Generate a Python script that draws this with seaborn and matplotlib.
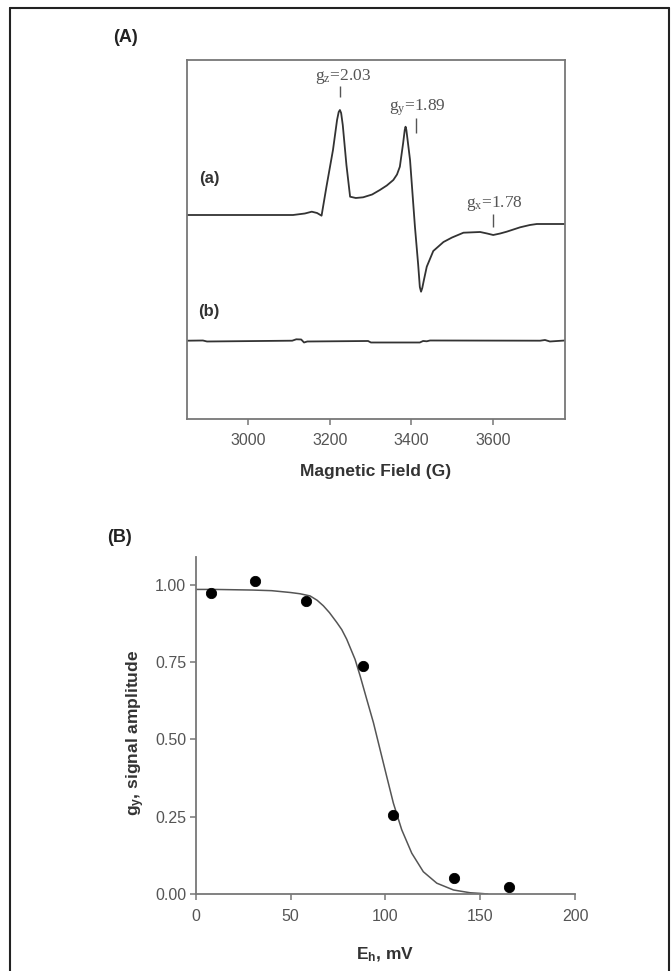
import matplotlib
matplotlib.use('Agg')
import matplotlib.pyplot as plt
import seaborn as sns

# Panel A: EPR spectra, (a) reduced sample, (b) control
field_a = [2850, 3110, 3139, 3156, 3169, 3180, 3192, 3208, 3218, 3222, 3225, 3228, 3232, 3241,
           3250, 3264, 3282, 3304, 3323, 3340, 3356, 3365, 3372, 3380, 3384, 3386, 3388, 3391,
           3397, 3409, 3417, 3421, 3424, 3427, 3431, 3438, 3454, 3479, 3500, 3528, 3569, 3586,
           3601, 3618, 3634, 3667, 3691, 3708, 3777]
signal_a = [0, 0, 1.5, 3.3, 2, -0.7, 28.3, 65, 95, 103, 105, 102, 90, 50,
            18.3, 17, 17.7, 20.5, 25, 29.5, 35, 40.5, 48.3, 71.7, 85, 88.3, 85, 75,
            55, -11.7, -50, -72, -76.7, -73, -65, -51.7, -36, -27, -22.5, -17.7, -17, -18.5,
            -20, -18.5, -16.7, -12.3, -10, -9, -9]
field_b = [2850, 2889, 2899, 3108, 3118, 3130, 3137, 3145, 3294, 3301, 3421, 3429,
           3438, 3446, 3716, 3728, 3740, 3777]
signal_b = [-125.7, -125.5, -126.5, -125.7, -124.3, -124.5, -127.5, -126.5, -126, -127.5,
            -127.5, -126, -126.3, -125.5, -125.7, -125, -126.5, -125.5]

g_names = ['z', 'y', 'x']
g_values = ['2.03', '1.89', '1.78']
g_fields = [3225, 3412, 3600]
g_line_lo = [118, 82, -12]
g_line_hi = [129, 97, 1]
g_label_x = [3232, 3416, 3605]
g_label_y = [139, 107, 11]

# Panel B: redox titration
eh_mv = [8, 31, 58, 88, 104, 136, 165]
amplitude = [0.972, 1.013, 0.948, 0.737, 0.254, 0.052, 0.024]
fit_eh = [0, 10, 20, 30, 40, 50, 55, 60.3, 64, 67.3, 70.5, 74.4, 77, 79.6, 84.0, 86.7, 90.2,
          93.7, 97.2, 100.7, 104.2, 108.6, 113.9, 120.0, 127.1, 135.9, 144.7, 150, 154]
fit_amp = [0.985, 0.985, 0.984, 0.983, 0.981, 0.975, 0.971, 0.964, 0.950, 0.932, 0.910,
           0.878, 0.855, 0.824, 0.759, 0.705, 0.629, 0.554, 0.467, 0.380, 0.294, 0.208,
           0.132, 0.072, 0.035, 0.013, 0.004, 0.002, 0.0]

sns.set_style('ticks')
plt.rcParams['font.family'] = ['Liberation Sans', 'DejaVu Sans']
plt.rcParams['axes.edgecolor'] = '#777777'
plt.rcParams['axes.linewidth'] = 1.3

fig = plt.figure(figsize=(6.71, 9.71), dpi=100)
axA = fig.add_axes([0.2787, 0.5685, 0.5633, 0.3697])
axB = fig.add_axes([0.2917, 0.0793, 0.5653, 0.3471])

# ---- panel A
sns.lineplot(x=field_a, y=signal_a, ax=axA, color='#333333', lw=1.3, sort=False, estimator=None)
sns.lineplot(x=field_b, y=signal_b, ax=axA, color='#333333', lw=1.3, sort=False, estimator=None)
axA.set_xlim(2850, 3777)
axA.set_ylim(-204, 155)
axA.set_yticks([])
axA.set_xticks([3000, 3200, 3400, 3600])
axA.tick_params(axis='x', direction='out', length=4, width=1.1, color='#777777',
                labelsize=11.5, labelcolor='#555555', pad=6)
axA.set_xlabel('Magnetic Field (G)', family=['Liberation Sans Narrow', 'Liberation Sans'],
               fontweight='bold', fontsize=12.5, color='#333333')
axA.xaxis.set_label_coords(0.5, -0.125)

axA.vlines(g_fields, g_line_lo, g_line_hi, color='#555555', lw=1.0)
for name, val, lx, ly in zip(g_names, g_values, g_label_x, g_label_y):
    axA.text(lx, ly, 'g$\\mathregular{_' + name + '}$=' + val, family='Liberation Serif',
             fontsize=12.5, color='#555555', ha='center', va='center')
axA.text(2904, 37, '(a)', fontsize=12, fontweight='bold', color='#333333', ha='center', va='center')
axA.text(2904, -97, '(b)', fontsize=12, fontweight='bold', color='#333333', ha='center', va='center')

# ---- panel B
sns.lineplot(x=fit_eh, y=fit_amp, ax=axB, color='#555555', lw=1.1, sort=False, estimator=None)
sns.scatterplot(x=eh_mv, y=amplitude, ax=axB, color='black', s=55, edgecolor='black',
                zorder=3, clip_on=False)
axB.set_xlim(0, 200)
axB.set_ylim(0, 1.09)
axB.set_xticks([0, 50, 100, 150, 200])
axB.set_yticks([0, 0.25, 0.5, 0.75, 1.0])
axB.set_yticklabels(['0.00', '0.25', '0.50', '0.75', '1.00'])
axB.tick_params(direction='out', length=4, width=1.1, color='#777777',
                labelsize=11.5, labelcolor='#555555')
axB.tick_params(axis='x', pad=7)
axB.tick_params(axis='y', pad=3)
sns.despine(ax=axB)
axB.set_xlabel('E$\\mathregular{_h}$, mV', family=['Liberation Sans Narrow', 'Liberation Sans'],
               fontweight='bold', fontsize=12.5, color='#333333')
axB.xaxis.set_label_coords(0.5, -0.152)
axB.set_ylabel('g$\\mathregular{_y}$, signal amplitude',
               family=['Liberation Sans Narrow', 'Liberation Sans'],
               fontweight='bold', fontsize=12.5, color='#333333')
axB.yaxis.set_label_coords(-0.128, 0.479)

fig.text(126 / 671, 1 - 37 / 971, '(A)', fontsize=13, fontweight='bold', color='#222222',
         ha='center', va='center')
fig.text(120 / 671, 1 - 538 / 971, '(B)', fontsize=13, fontweight='bold', color='#222222',
         ha='center', va='center')

# outer frame
x0, y1 = 10 / 671, 1 - 8 / 971
fig.add_artist(plt.Line2D([x0, x0], [0, y1], color='#222222', lw=1.5))
fig.add_artist(plt.Line2D([x0, 0.997], [y1, y1], color='#222222', lw=1.5))
fig.add_artist(plt.Line2D([0.997, 0.997], [0, y1], color='#222222', lw=1.5))

fig.savefig('out.png', dpi=100)
